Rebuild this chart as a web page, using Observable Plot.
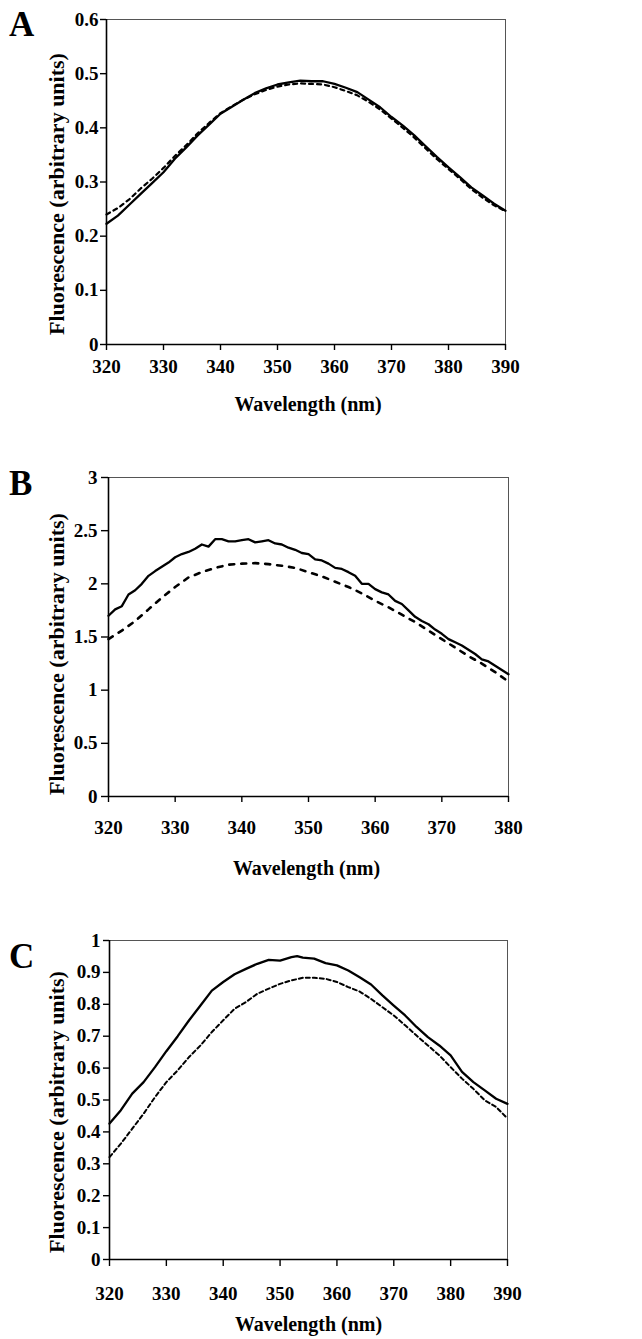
<!DOCTYPE html>
<html>
<head>
<meta charset="utf-8">
<script src="https://cdn.jsdelivr.net/npm/d3@7"></script>
<script src="https://cdn.jsdelivr.net/npm/@observablehq/plot@0.6"></script>
<style>
  html, body { margin: 0; padding: 0; background: #fff; }
  #wrap { position: relative; width: 642px; height: 1339px; background: #fff; overflow: hidden; }
  .panel { position: absolute; left: 0; }
  .letter { position: absolute; left: 9px; font-family: 'Liberation Serif', 'Times New Roman', serif; font-weight: bold; font-size: 35px; line-height: 35px; color: #000; }
</style>
</head>
<body>
<div id="wrap"></div>
<script>
// ---------- DATA ----------
// Panel A
const wlA = [320,322,324,326,328,330,332,334,336,338,340,342,344,346,348,350,352,354,356,358,360,362,364,366,368,370,372,374,376,378,380,382,384,386,388,390];
const solidA = [0.223,0.238,0.258,0.278,0.298,0.318,0.343,0.364,0.386,0.406,0.426,0.439,0.452,0.464,0.473,0.480,0.484,0.487,0.486,0.486,0.481,0.474,0.466,0.452,0.438,0.420,0.404,0.386,0.366,0.346,0.327,0.309,0.290,0.275,0.260,0.247];
const dashedA = [0.240,0.252,0.268,0.288,0.306,0.326,0.348,0.368,0.390,0.409,0.427,0.440,0.452,0.462,0.470,0.476,0.480,0.482,0.481,0.480,0.475,0.468,0.460,0.448,0.434,0.417,0.400,0.382,0.362,0.342,0.324,0.306,0.287,0.271,0.257,0.246];
const xTicksA = [320,330,340,350,360,370,380,390];
const yTicksA = [0,0.1,0.2,0.3,0.4,0.5,0.6];

// Panel B
const wlBsolid = [320,321,322,323,324,325,326,327,328,329,330,331,332,333,334,335,336,337,338,339,340,341,342,343,344,345,346,347,348,349,350,351,352,353,354,355,356,357,358,359,360,361,362,363,364,365,366,367,368,369,370,371,372,373,374,375,376,377,378,379,380];
const solidB = [1.70,1.76,1.79,1.90,1.94,2.00,2.075,2.12,2.16,2.20,2.25,2.28,2.30,2.33,2.37,2.35,2.42,2.42,2.40,2.40,2.41,2.42,2.39,2.40,2.41,2.38,2.37,2.34,2.32,2.29,2.28,2.23,2.22,2.19,2.15,2.14,2.11,2.075,2.00,2.00,1.95,1.92,1.90,1.84,1.81,1.75,1.69,1.65,1.62,1.57,1.53,1.48,1.45,1.42,1.38,1.34,1.29,1.27,1.23,1.19,1.15];
const wlBdashed = [320,322,324,326,328,330,332,334,336,338,340,342,344,346,348,350,352,354,356,358,360,362,364,366,368,370,372,374,376,378,380];
const dashedB = [1.48,1.56,1.65,1.76,1.87,1.97,2.06,2.11,2.15,2.18,2.19,2.195,2.185,2.17,2.15,2.11,2.07,2.02,1.97,1.91,1.84,1.78,1.71,1.64,1.56,1.48,1.40,1.32,1.25,1.17,1.08];
const xTicksB = [320,330,340,350,360,370,380];
const yTicksB = [0,0.5,1,1.5,2,2.5,3];

// Panel C
const wlC = [320,322,324,326,328,330,332,334,336,338,340,342,344,346,348,350,352,353,354,356,358,360,362,364,366,368,370,372,374,376,378,380,382,384,386,388,390];
const solidC = [0.426,0.468,0.520,0.556,0.603,0.653,0.700,0.750,0.796,0.843,0.870,0.894,0.911,0.927,0.939,0.937,0.948,0.951,0.946,0.943,0.929,0.922,0.906,0.885,0.862,0.828,0.796,0.765,0.729,0.697,0.671,0.640,0.588,0.556,0.530,0.504,0.488];
const wlCd = [320,322,324,326,328,330,332,334,336,338,340,342,344,346,348,350,352,354,356,358,360,362,364,366,368,370,372,374,376,378,380,382,384,386,388,390];
const dashedC = [0.321,0.363,0.410,0.457,0.509,0.556,0.593,0.635,0.671,0.713,0.750,0.786,0.807,0.833,0.849,0.864,0.875,0.883,0.883,0.880,0.870,0.854,0.840,0.817,0.791,0.765,0.734,0.702,0.671,0.640,0.603,0.567,0.535,0.499,0.478,0.442];
const xTicksC = [320,330,340,350,360,370,380,390];
const yTicksC = [0,0.1,0.2,0.3,0.4,0.5,0.6,0.7,0.8,0.9,1];

const xLabel = "Wavelength (nm)";
const yLabel = "Fluorescence (arbitrary units)";
const panelLetters = ["A","B","C"];

// ---------- DRAW ----------
const FONT = "'Liberation Serif', 'Times New Roman', serif";
const zip = (xs, ys) => xs.map((x, i) => ({x, y: ys[i]}));

function panel(cfg) {
  return Plot.plot({
    width: 642,
    height: cfg.height,
    marginTop: cfg.mt, marginBottom: cfg.mb, marginLeft: cfg.ml, marginRight: cfg.mr,
    style: {fontFamily: FONT, fontSize: "19px", fontWeight: "bold", color: "#000", background: "transparent", overflow: "visible"},
    x: {domain: cfg.xDomain},
    y: {domain: cfg.yDomain},
    marks: [
      Plot.frame({stroke: "#555", strokeWidth: 1}),
      Plot.ruleX([cfg.xDomain[0]], {stroke: "#000", strokeWidth: 1.6}),
      Plot.ruleY([cfg.yDomain[0]], {stroke: "#000", strokeWidth: 1.6}),
      Plot.axisX({ticks: cfg.xTicks, tickSize: cfg.xTickSize, tickPadding: cfg.xTickPad, label: null, stroke: "#000", strokeWidth: 1.4}),
      Plot.axisY({ticks: cfg.yTicks, tickSize: cfg.yTickSize, tickPadding: cfg.yTickPad, label: null, stroke: "#000", strokeWidth: 1.4, tickFormat: d3.format("~g")}),
      Plot.line(cfg.dashed, {x: "x", y: "y", stroke: "#000", strokeWidth: cfg.dashW, strokeDasharray: cfg.dash, curve: "linear"}),
      Plot.line(cfg.solid, {x: "x", y: "y", stroke: "#000", strokeWidth: 2.3, curve: "linear"}),
      Plot.text([xLabel], {frameAnchor: "bottom", textAnchor: "middle", dy: cfg.xLabDy, dx: cfg.xLabDx, fontSize: 20, fontWeight: "bold", fill: "#000"}),
      Plot.text([yLabel], {frameAnchor: "left", textAnchor: "middle", rotate: -90, dx: cfg.yLabDx, dy: cfg.yLabDy, fontSize: 22, fontWeight: "bold", fill: "#000"})
    ]
  });
}

const wrap = document.getElementById("wrap");
const cfgs = [
  {top: 0, height: 425, mt: 19, mb: 81, ml: 106, mr: 137, xDomain: [320,390], yDomain: [0,0.6],
   xTicks: xTicksA, yTicks: yTicksA, xTickSize: 6, xTickPad: 9, yTickSize: 6, yTickPad: 2,
   solid: zip(wlA, solidA), dashed: zip(wlA, dashedA), dash: "4,4", dashW: 2.2,
   xLabDy: 66, xLabDx: 2, yLabDx: -50, yLabDy: 12, letterTop: 7},
  {top: 440, height: 440, mt: 37, mb: 84, ml: 108, mr: 134, xDomain: [320,380], yDomain: [0,3],
   xTicks: xTicksB, yTicks: yTicksB, xTickSize: 6, xTickPad: 18, yTickSize: 7, yTickPad: 4,
   solid: zip(wlBsolid, solidB), dashed: zip(wlBdashed, dashedB), dash: "5,7", dashW: 2.6,
   xLabDy: 78, xLabDx: -2, yLabDx: -52, yLabDy: 17, letterTop: 466},
  {top: 880, height: 459, mt: 60, mb: 80, ml: 109, mr: 135, xDomain: [320,390], yDomain: [0,1],
   xTicks: xTicksC, yTicks: yTicksC, xTickSize: 7, xTickPad: 20, yTickSize: 6, yTickPad: 3,
   solid: zip(wlC, solidC), dashed: zip(wlCd, dashedC), dash: "4,3", dashW: 2,
   xLabDy: 71, xLabDx: 0, yLabDx: -53, yLabDy: 12, letterTop: 939}
];

cfgs.forEach((cfg, i) => {
  const div = document.createElement("div");
  div.className = "panel";
  div.style.top = cfg.top + "px";
  div.appendChild(panel(cfg));
  wrap.appendChild(div);
  const L = document.createElement("div");
  L.className = "letter";
  L.style.top = cfg.letterTop + "px";
  L.textContent = panelLetters[i];
  wrap.appendChild(L);
});
</script>
</body>
</html>
